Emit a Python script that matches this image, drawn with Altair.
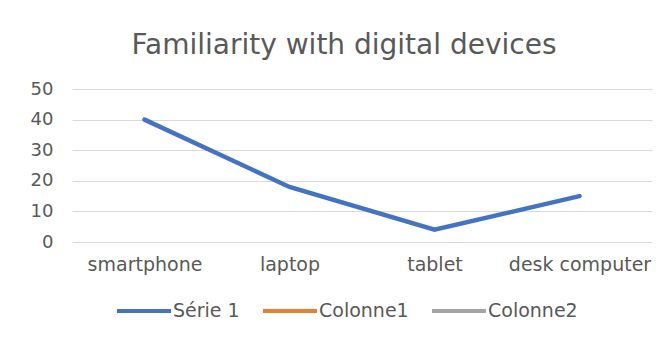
import altair as alt
import pandas as pd

categories = ["smartphone", "laptop", "tablet", "desk computer"]
serie1 = [40, 18, 4, 15]
series_names = ["Série 1", "Colonne1", "Colonne2"]
series_colors = ["#4472C4", "#ED7D31", "#A5A5A5"]
y_ticks = [0, 10, 20, 30, 40, 50]

df = pd.DataFrame({"device": categories, "value": serie1, "series": ["Série 1"] * len(categories)})

FONT = "DejaVu Sans"
GREY = "#595959"

chart = alt.Chart(df).mark_line(strokeWidth=4.5, strokeCap="round").encode(
    x=alt.X("device:N", sort=categories, scale=alt.Scale(type="point", padding=0.5),
            axis=alt.Axis(title=None, labelAngle=0, domain=False, ticks=False, grid=False,
                          labelPadding=13, labelFont=FONT, labelFontSize=19, labelColor=GREY)),
    y=alt.Y("value:Q", scale=alt.Scale(domain=[0, 50], nice=False),
            axis=alt.Axis(title=None, values=y_ticks, domain=False, ticks=False, grid=True,
                          gridColor="#D9D9D9", gridWidth=1, labelPadding=19,
                          labelFont=FONT, labelFontSize=18, labelColor=GREY)),
    color=alt.Color("series:N", scale=alt.Scale(domain=series_names, range=series_colors),
                    legend=alt.Legend(title=None, orient="none", direction="horizontal",
                                      legendX=43, legendY=193, symbolType="stroke",
                                      symbolSize=2916, symbolStrokeWidth=4, labelOffset=0,
                                      columnPadding=15, padding=0, gridAlign="none",
                                      labelFont=FONT, labelFontSize=19, labelColor=GREY)),
).properties(
    width=580,
    height=153,
    background="white",
    title=alt.TitleParams("Familiarity with digital devices", font=FONT, fontSize=28,
                          fontWeight="normal", color=GREY, anchor="middle",
                          frame="group", dx=-18, dy=24, offset=22, baseline="alphabetic"),
    autosize=alt.AutoSizeParams(type="none"),
    padding={"left": 64, "top": 81, "right": 3, "bottom": 99},
).configure_view(stroke=None, strokeWidth=0)

chart.save("out.html", embed_options={"renderer": "svg", "actions": False})
